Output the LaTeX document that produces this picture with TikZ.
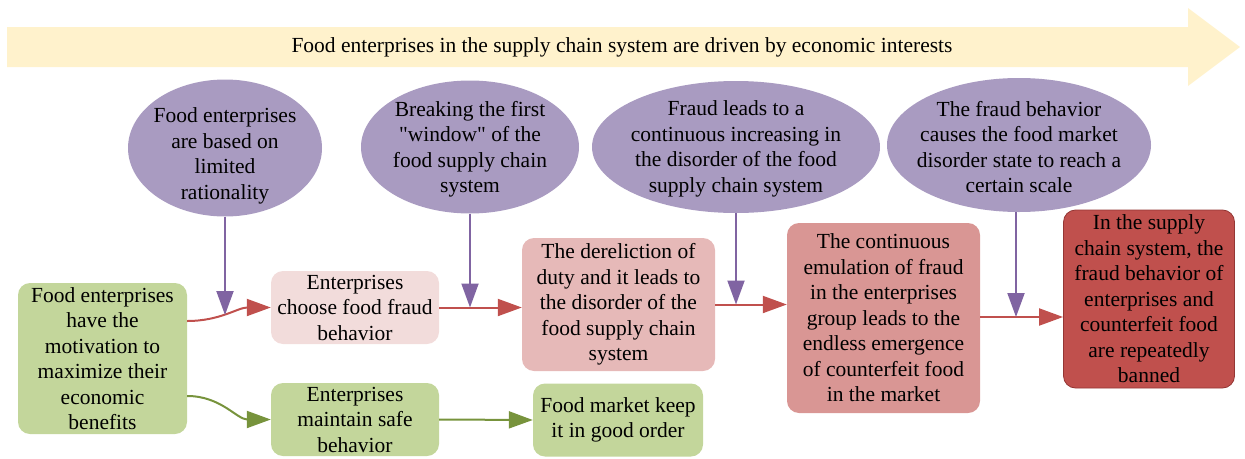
\documentclass[tikz,border=0pt]{standalone}
\usepackage{fontspec}
\setmainfont{Liberation Serif}
\usetikzlibrary{arrows.meta,shapes.geometric}
\definecolor{bandfill}{HTML}{FFF2CC}
\definecolor{ovalfill}{HTML}{A99BC1}
\definecolor{ovalline}{HTML}{8064A2}
\definecolor{greenfill}{HTML}{C3D69B}
\definecolor{greenline}{HTML}{77933C}
\definecolor{pinkA}{HTML}{F2DCDB}
\definecolor{pinkB}{HTML}{E6B9B8}
\definecolor{pinkC}{HTML}{D99694}
\definecolor{redfill}{HTML}{C0504D}
\definecolor{redline}{HTML}{C0504D}
\definecolor{redborder}{HTML}{943634}
\begin{document}
\begin{tikzpicture}[x=1pt,y=-1pt,
  every node/.style={font=\fontsize{21.5}{25.5}\selectfont, align=center, inner sep=0pt},
  oval/.style={ellipse, fill=ovalfill},
  box/.style={rectangle, rounded corners=12pt},
  tip/.style={-{Triangle[length=24pt,width=17pt]}, line width=2pt},
  redarrow/.style={tip, draw=redline},
  greenarrow/.style={tip, draw=greenline},
  purplearrow/.style={tip, draw=ovalline}]
\useasboundingbox (0,0) rectangle (1245,458);

% banner arrow across the top
\fill[bandfill] (7,27) -- (1188,27) -- (1188,8) -- (1240,47) -- (1188,86) -- (1188,67) -- (7,67) -- cycle;
\node (title) at (622,47) {Food enterprises in the supply chain system are driven by economic interests};

% influencing factors (ovals)
\node[oval, minimum width=194pt, minimum height=137pt] (e1) at (225,148) {};
\node at ([yshift=-8pt]e1.center) {Food enterprises\\are based on\\limited\\rationality};
\node[oval, minimum width=218pt, minimum height=133pt] (e2) at (470,147) {};
\node at ([yshift=-2pt]e2.center) {Breaking the first\\\textquotedbl window\textquotedbl{} of the\\food supply chain\\system};
\node[oval, minimum width=288pt, minimum height=132pt] (e3) at (736,147) {};
\node at ([yshift=-2pt]e3.center) {Fraud leads to a\\continuous increasing in\\the disorder of the food\\supply chain system};
\node[oval, minimum width=264pt, minimum height=134pt] (e4) at (1019,145) {};
\node at ([yshift=-2pt]e4.center) {The fraud behavior\\causes the food market\\disorder state to reach a\\certain scale};

% process boxes
\node[box, fill=greenfill, minimum width=169pt, minimum height=151pt] (g1) at (102.5,358.5)
  {Food enterprises\\have the\\motivation to\\maximize their\\economic\\benefits};
\node[box, fill=pinkA, minimum width=168pt, minimum height=73pt] (p1) at (355,307.5)
  {Enterprises\\choose food fraud\\behavior};
\node[box, fill=greenfill, minimum width=168pt, minimum height=73pt] (g2) at (355,419.5)
  {Enterprises\\maintain safe\\behavior};
\node[box, fill=pinkB, minimum width=193pt, minimum height=133pt] (p2) at (618.5,304.5)
  {The dereliction of\\duty and it leads to\\the disorder of the\\food supply chain\\system};
\node[box, fill=greenfill, minimum width=170pt, minimum height=73pt] (g3) at (618,420)
  {Food market keep\\it in good order};
\node[box, fill=pinkC, minimum width=193pt, minimum height=190pt] (p3) at (883.5,318)
  {The continuous\\emulation of fraud\\in the enterprises\\group leads to the\\endless emergence\\of counterfeit food\\in the market};
\node[box, fill=redfill, draw=redborder, line width=0.8pt, minimum width=171pt, minimum height=178pt] (r) at (1149,299)
  {In the supply\\chain system, the\\fraud behavior of\\enterprises and\\counterfeit food\\are repeatedly\\banned};

% main chains
\draw[redarrow] ([yshift=37.5pt]g1.east) to[out=0,in=180] (p1.west);
\draw[greenarrow] ([yshift=-37.5pt]g1.east) to[out=0,in=180] (g2.west);
\draw[redarrow] (p1.east) -- (p1.east -| p2.west);
\draw[redarrow] (p2.east) -- (p2.east -| p3.west);
\draw[redarrow] ([yshift=1pt]p3.east) -- ([yshift=1pt]p3.east -| r.west);
\draw[greenarrow] (g2.east) -- (g3.west);

% factors acting on the chain
\coordinate (j1) at (225,315);
\coordinate (j2) at (e2.south |- p1.east);
\coordinate (j3) at (e3.south |- p2.east);
\coordinate (j4) at (1016,317);
\draw[purplearrow] (e1.south) -- (j1);
\draw[purplearrow] (e2.south) -- (j2);
\draw[purplearrow] (e3.south) -- (j3);
\draw[purplearrow] (e4.south -| j4) -- (j4);
\end{tikzpicture}
\end{document}
